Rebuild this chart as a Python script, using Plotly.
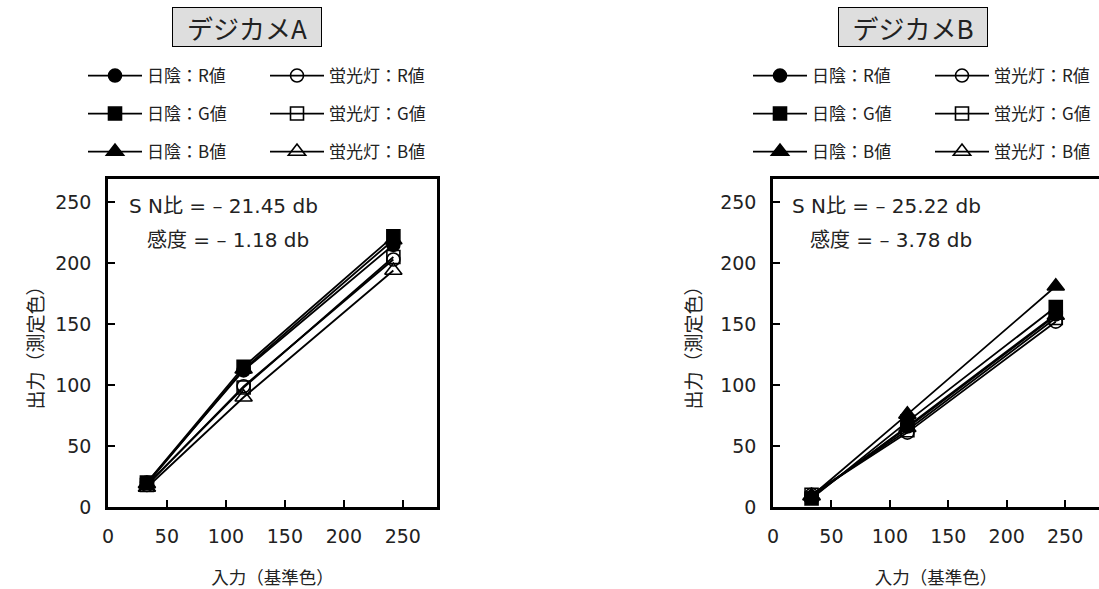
import plotly.graph_objects as go

# ---- data ----
x_ref = [33, 115, 242]
series_names = ["日陰：R値", "日陰：G値", "日陰：B値", "蛍光灯：R値", "蛍光灯：G値", "蛍光灯：B値"]
symbols = ["circle", "square", "triangle-up", "circle-open", "square-open", "triangle-up-open"]

camA = {
    "日陰：R値": [20, 112, 215],
    "日陰：G値": [20, 115, 222],
    "日陰：B値": [19, 113, 219],
    "蛍光灯：R値": [18, 99, 203],
    "蛍光灯：G値": [18, 98, 205],
    "蛍光灯：B値": [16, 90, 194],
}
camB = {
    "日陰：R値": [8, 66, 158],
    "日陰：G値": [7, 70, 164],
    "日陰：B値": [9, 76, 181],
    "蛍光灯：R値": [10, 61, 152],
    "蛍光灯：G値": [10, 63, 155],
    "蛍光灯：B値": [9, 65, 157],
}
titles = ["デジカメA", "デジカメB"]
sn_text = ["S N比 = – 21.45 db", "S N比 = – 25.22 db"]
kando_text = ["感度 = – 1.18 db", "感度 = – 3.78 db"]
x_title = "入力（基準色）"
y_title = "出力（測定色）"
tick_vals = [0, 50, 100, 150, 200, 250]

W, H = 1099, 589
CJK = "Noto Sans CJK JP"
LAT = "DejaVu Sans, Noto Sans CJK JP"
TXT = "#222222"

def px(xp):
    return xp / W

def py(yp):
    return 1 - yp / H

fig = go.Figure()

ITEMW = 54
legend_layouts = {}
leg_idx = 0
text_x = [[148, 330], [813, 995]]
row_y = [76, 114, 152]
leg_off = ITEMW + 11

for ci, data in enumerate([camA, camB]):
    xa = "x" if ci == 0 else "x2"
    ya = "y" if ci == 0 else "y2"
    for si, name in enumerate(series_names):
        leg_idx += 1
        lname = "legend" if leg_idx == 1 else f"legend{leg_idx}"
        sym = symbols[si]
        size = 15 if "triangle" in sym else 13
        fig.add_trace(go.Scatter(
            x=x_ref, y=data[name], name=name, mode="lines+markers",
            xaxis=xa, yaxis=ya, legend=lname,
            line=dict(color="black", width=1.8),
            marker=dict(symbol=sym, size=size, color="black",
                        line=dict(color="black", width=1.6)),
        ))
        col = 0 if si < 3 else 1
        row = si % 3
        legend_layouts[lname] = dict(
            x=px(text_x[ci][col] - leg_off), y=py(row_y[row]), xanchor="left", yanchor="middle",
            bgcolor="rgba(0,0,0,0)", borderwidth=0, itemwidth=ITEMW,
            font=dict(family=CJK, size=17, color=TXT),
        )

fig.update_layout(**legend_layouts)

axis_common = dict(
    showline=True, linecolor="black", linewidth=2.5,
    ticks="inside", ticklen=7, tickwidth=2, tickcolor="black",
    showgrid=False, zeroline=False, automargin=False,
    tickfont=dict(family=LAT, size=19, color=TXT),
    tickvals=tick_vals,
)

ydom = [py(507), py(179)]
xt_font = dict(family=CJK, size=17.5, color=TXT)
yt_font = dict(family=CJK, size=19, color=TXT)
fig.update_layout(
    width=W, height=H,
    margin=dict(l=0, r=0, t=0, b=0, autoexpand=False),
    paper_bgcolor="white", plot_bgcolor="white",
    showlegend=True,
    xaxis=dict(domain=[px(108), px(437)], range=[0, 279], mirror=True, anchor="y",
               ticklabelstandoff=10,
               title=dict(text=x_title, font=xt_font, standoff=27),
               **axis_common),
    yaxis=dict(domain=ydom, range=[0, 269], mirror=True, anchor="x",
               ticklabelstandoff=10,
               title=dict(text=y_title, font=yt_font, standoff=7),
               **axis_common),
    xaxis2=dict(domain=[px(773), 1.0], range=[0, 279], mirror=True, anchor="y2",
                ticklabelstandoff=10,
                title=dict(text=x_title, font=xt_font, standoff=27),
                **axis_common),
    yaxis2=dict(domain=ydom, range=[0, 269], mirror=False, anchor="x2",
                ticklabelstandoff=10,
                title=dict(text=y_title, font=yt_font, standoff=14),
                **axis_common),
)

annots = []
box_cx = [247, 913]
sn_x = [127, 790]
kd_x = [145, 808]
for ci in range(2):
    annots.append(dict(
        x=px(box_cx[ci]), y=py(27), xref="paper", yref="paper",
        text=titles[ci], showarrow=False, xanchor="center", yanchor="middle",
        font=dict(family=CJK, size=26, color=TXT),
        bgcolor="#dedede", bordercolor="black", borderwidth=1,
        width=146, height=36,
    ))
    annots.append(dict(
        x=px(sn_x[ci]), y=py(206), xref="paper", yref="paper",
        text=sn_text[ci], showarrow=False, xanchor="left", yanchor="middle",
        font=dict(family=LAT, size=20, color=TXT),
    ))
    annots.append(dict(
        x=px(kd_x[ci]), y=py(240), xref="paper", yref="paper",
        text=kando_text[ci], showarrow=False, xanchor="left", yanchor="middle",
        font=dict(family=LAT, size=20, color=TXT),
    ))
fig.update_layout(annotations=annots)

fig.write_html("out.html")
